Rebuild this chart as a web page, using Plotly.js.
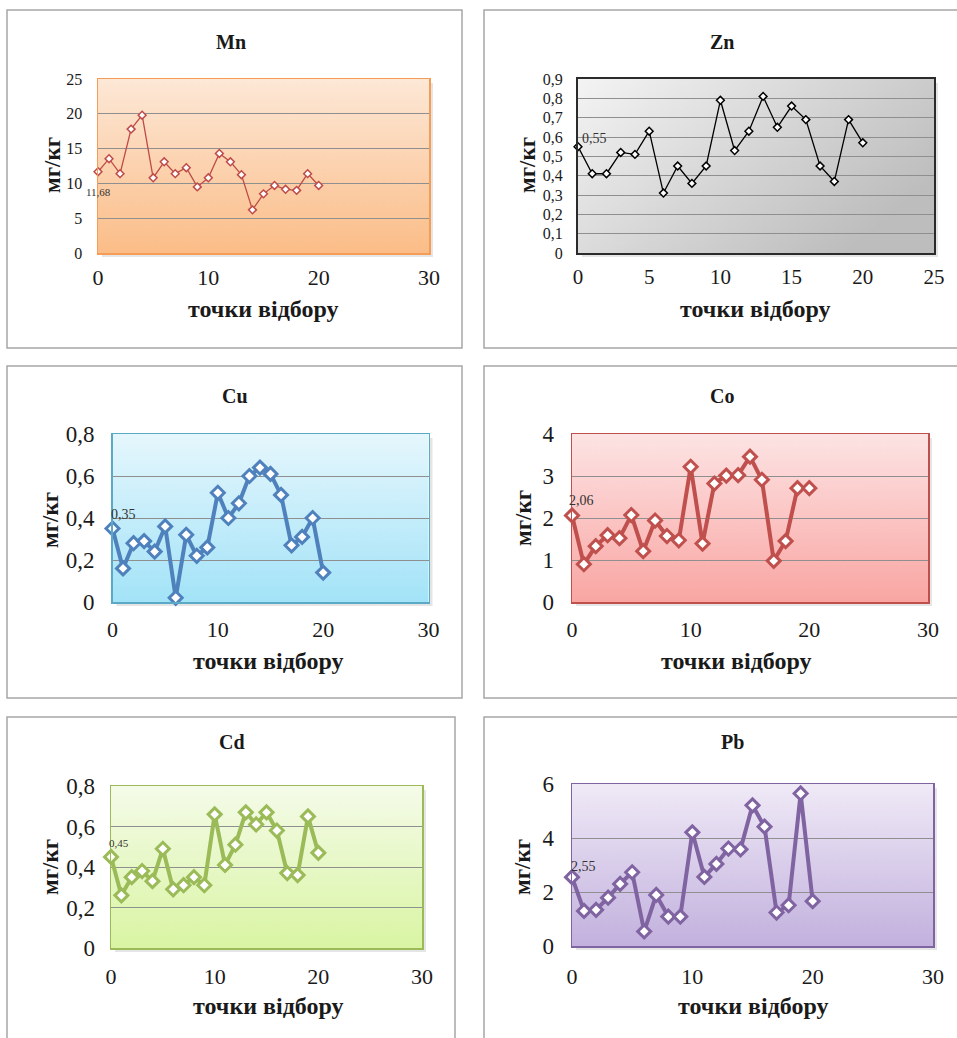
<!DOCTYPE html>
<html><head><meta charset="utf-8">
<script src="https://cdn.plot.ly/plotly-3.0.1.min.js"></script>
<style>html,body{margin:0;padding:0;background:#fff;}#chart{width:957px;height:1038px;}</style>
</head><body><div id="chart"></div>
<script>
// ---- data ----
const samplePoints = [0,1,2,3,4,5,6,7,8,9,10,11,12,13,14,15,16,17,18,19,20];
const mnValues = [11.68,13.55,11.4,17.8,19.8,10.8,13.1,11.4,12.25,9.5,10.8,14.3,13.1,11.25,6.2,8.5,9.7,9.15,9.0,11.4,9.7];
const znValues = [0.55,0.41,0.41,0.52,0.51,0.63,0.31,0.45,0.36,0.45,0.79,0.53,0.63,0.81,0.65,0.76,0.69,0.45,0.37,0.69,0.57];
const cuValues = [0.35,0.16,0.28,0.29,0.24,0.36,0.02,0.32,0.22,0.26,0.52,0.40,0.47,0.60,0.64,0.61,0.51,0.27,0.31,0.40,0.14];
const coValues = [2.06,0.90,1.33,1.59,1.52,2.07,1.21,1.94,1.57,1.47,3.22,1.39,2.82,3.01,3.02,3.46,2.91,0.98,1.45,2.71,2.71];
const cdValues = [0.45,0.26,0.35,0.38,0.33,0.49,0.29,0.31,0.35,0.31,0.66,0.41,0.51,0.67,0.61,0.67,0.58,0.37,0.36,0.65,0.47];
const pbValues = [2.55,1.30,1.34,1.79,2.30,2.73,0.54,1.89,1.09,1.09,4.21,2.56,3.04,3.61,3.58,5.21,4.42,1.24,1.51,5.65,1.66];
const elementNames = ['Mn','Zn','Cu','Co','Cd','Pb'];
const xAxisLabel = 'точки відбору';
const yAxisLabel = 'мг/кг';

// ---- style / layout (pixels) ----
const W = 957, H = 1038;
const fx = p => p / W, fy = p => 1 - p / H;
const serif = '"Liberation Serif", "Times New Roman", "DejaVu Serif", serif';
const ink = '#1a1a1a';

const panels = [
  {vals: mnValues, box:[7,10,462,348], plot:[98,79,429,253], xr:[0,30], xd:10, yr:[0,25], yd:5,
   color:'#be4b48', border:'#f59d56', bw:1.5, lw:1.3, ms:6, mlw:1.5, g:['#fde8d7','#fbbd88'], diag:false,
   title:[231,42], xt:[263,309], yt:[52,165], tickY:16, tickX:22, ySt:11, xSt:4, lbl:{size:11, xanchor:'center', xs:0, ys:-20}},
  {vals: znValues, box:[484,10,1000,348], plot:[578,79,934,253], xr:[0,25], xd:5, yr:[0,0.9], yd:0.1,
   color:'#000000', border:'#2b2b2b', bw:2, lw:1.3, ms:6, mlw:1.5, g:['#f4f4f4','#bdbdbd'], diag:true,
   title:[722,42], xt:[755,309], yt:[527,165], tickY:16, tickX:21, ySt:10, xSt:4, lbl:{size:14, xanchor:'left', xs:2, ys:8}},
  {vals: cuValues, box:[7,366,462,698], plot:[112.5,434,428.5,602], xr:[0,30], xd:10, yr:[0,0.8], yd:0.2,
   color:'#4f81bd', border:'#5aaac6', bw:1.5, lw:4, ms:10, mlw:3, g:['#e6f7fd','#a3e3f8'], diag:false,
   title:[235,396], xt:[268,661], yt:[50,520], tickY:23, tickX:22, ySt:12, xSt:7, lbl:{size:14, xanchor:'left', xs:-4, ys:14}},
  {vals: coValues, box:[484,366,1000,698], plot:[572,434,928,602], xr:[0,30], xd:10, yr:[0,4], yd:1,
   color:'#c0504d', border:'#c0504d', bw:1.5, lw:4, ms:10, mlw:3, g:['#fde4e4','#f9a6a3'], diag:false,
   title:[722,396], xt:[736,661], yt:[523,518], tickY:23, tickX:22, ySt:12, xSt:7, lbl:{size:14, xanchor:'left', xs:-5, ys:15}},
  {vals: cdValues, box:[7,717,455,1060], plot:[111,786,422,948], xr:[0,30], xd:10, yr:[0,0.8], yd:0.2,
   color:'#9bbb59', border:'#9bbb59', bw:1.5, lw:4, ms:10, mlw:3, g:['#f5fbe9','#d9f5a3'], diag:false,
   title:[232,742], xt:[268,1006], yt:[50,867], tickY:23, tickX:22, ySt:10, xSt:8, lbl:{size:11, xanchor:'left', xs:-4, ys:14}},
  {vals: pbValues, box:[484,717,1000,1060], plot:[572,784,933,946], xr:[0,30], xd:10, yr:[0,6], yd:2,
   color:'#8064a2', border:'#8064a2', bw:1.5, lw:4, ms:10, mlw:3, g:['#f0eaf7','#c2b1de'], diag:false,
   title:[732,742], xt:[753,1006], yt:[522,867], tickY:23, tickX:22, ySt:12, xSt:10, lbl:{size:14, xanchor:'left', xs:-3, ys:11}}
];

function gradImg(c1, c2, diag) {
  const cv = document.createElement('canvas');
  cv.width = 200; cv.height = 200;
  const ctx = cv.getContext('2d');
  const g = diag ? ctx.createLinearGradient(0, 0, 200, 120) : ctx.createLinearGradient(0, 0, 0, 200);
  g.addColorStop(0, c1); g.addColorStop(1, c2);
  ctx.fillStyle = g; ctx.fillRect(0, 0, 200, 200);
  return cv.toDataURL('image/png');
}

const traces = [], shapes = [], images = [], annotations = [];
const layout = {
  width: W, height: H, margin: {l:0, r:0, t:0, b:0},
  paper_bgcolor: '#ffffff', plot_bgcolor: 'rgba(0,0,0,0)',
  separators: ', ', showlegend: false,
  font: {family: serif, color: ink}
};

function paperText(x, y, text, size, angle) {
  return {xref: 'paper', yref: 'paper', x: fx(x), y: fy(y), xanchor: 'center', yanchor: 'middle',
    text: text, showarrow: false, textangle: angle || 0, font: {family: serif, size: size, color: ink}};
}

panels.forEach((p, i) => {
  const n = i + 1;
  const xa = 'xaxis' + (n === 1 ? '' : n), ya = 'yaxis' + (n === 1 ? '' : n);
  const xid = 'x' + (n === 1 ? '' : n), yid = 'y' + (n === 1 ? '' : n);
  const [L, T, R, B] = p.plot;
  layout[xa] = {
    domain: [fx(L), fx(R)], anchor: yid, range: p.xr, dtick: p.xd, tick0: 0,
    showgrid: false, zeroline: false, showline: true, mirror: true,
    linecolor: p.border, linewidth: p.bw, ticks: '',
    tickfont: {family: serif, size: p.tickX, color: ink}, ticklabelstandoff: p.xSt, fixedrange: true
  };
  layout[ya] = {
    domain: [fy(B), fy(T)], anchor: xid, range: p.yr, dtick: p.yd, tick0: 0,
    showgrid: true, gridcolor: '#8f8f8f', gridwidth: 1, zeroline: false,
    showline: true, mirror: true, linecolor: p.border, linewidth: p.bw, ticks: '',
    tickfont: {family: serif, size: p.tickY, color: ink}, ticklabelstandoff: p.ySt, fixedrange: true
  };
  traces.push({
    type: 'scatter', mode: 'lines+markers', x: samplePoints, y: p.vals,
    xaxis: xid, yaxis: yid, cliponaxis: false, hoverinfo: 'skip',
    line: {color: p.color, width: p.lw},
    marker: {symbol: 'diamond', size: p.ms, color: '#ffffff', line: {color: p.color, width: p.mlw}}
  });
  shapes.push({type: 'rect', xref: 'paper', yref: 'paper', layer: 'below',
    x0: fx(p.box[0]), x1: fx(p.box[2]), y0: fy(p.box[3]), y1: fy(p.box[1]),
    line: {color: '#a6a6a6', width: 1.5}, fillcolor: 'rgba(0,0,0,0)'});
  shapes.push({type: 'rect', xref: 'paper', yref: 'paper', layer: 'below',
    x0: fx(R + 1), x1: fx(R + 4), y0: fy(B + 4), y1: fy(T + 4),
    line: {width: 0}, fillcolor: 'rgba(0,0,0,0.10)'});
  shapes.push({type: 'rect', xref: 'paper', yref: 'paper', layer: 'below',
    x0: fx(L + 4), x1: fx(R + 1), y0: fy(B + 4), y1: fy(B + 1),
    line: {width: 0}, fillcolor: 'rgba(0,0,0,0.10)'});
  images.push({source: gradImg(p.g[0], p.g[1], p.diag), xref: 'paper', yref: 'paper',
    x: fx(L), y: fy(T), sizex: fx(R) - fx(L), sizey: fy(T) - fy(B),
    xanchor: 'left', yanchor: 'top', sizing: 'stretch', layer: 'below'});
  annotations.push(paperText(p.title[0], p.title[1], '<b>' + elementNames[i] + '</b>', 20));
  annotations.push(paperText(p.xt[0], p.xt[1], '<b>' + xAxisLabel + '</b>', 24));
  annotations.push(paperText(p.yt[0], p.yt[1], '<b>' + yAxisLabel + '</b>', 23, -90));
  annotations.push({xref: xid, yref: yid, x: samplePoints[0], y: p.vals[0],
    text: String(p.vals[0]).replace('.', ','), showarrow: false,
    xanchor: p.lbl.xanchor, yanchor: 'middle', xshift: p.lbl.xs, yshift: p.lbl.ys,
    font: {family: serif, size: p.lbl.size, color: '#333333'}});
});

layout.shapes = shapes;
layout.images = images;
layout.annotations = annotations;

Plotly.newPlot('chart', traces, layout, {displayModeBar: false, staticPlot: true});
</script>
</body></html>
